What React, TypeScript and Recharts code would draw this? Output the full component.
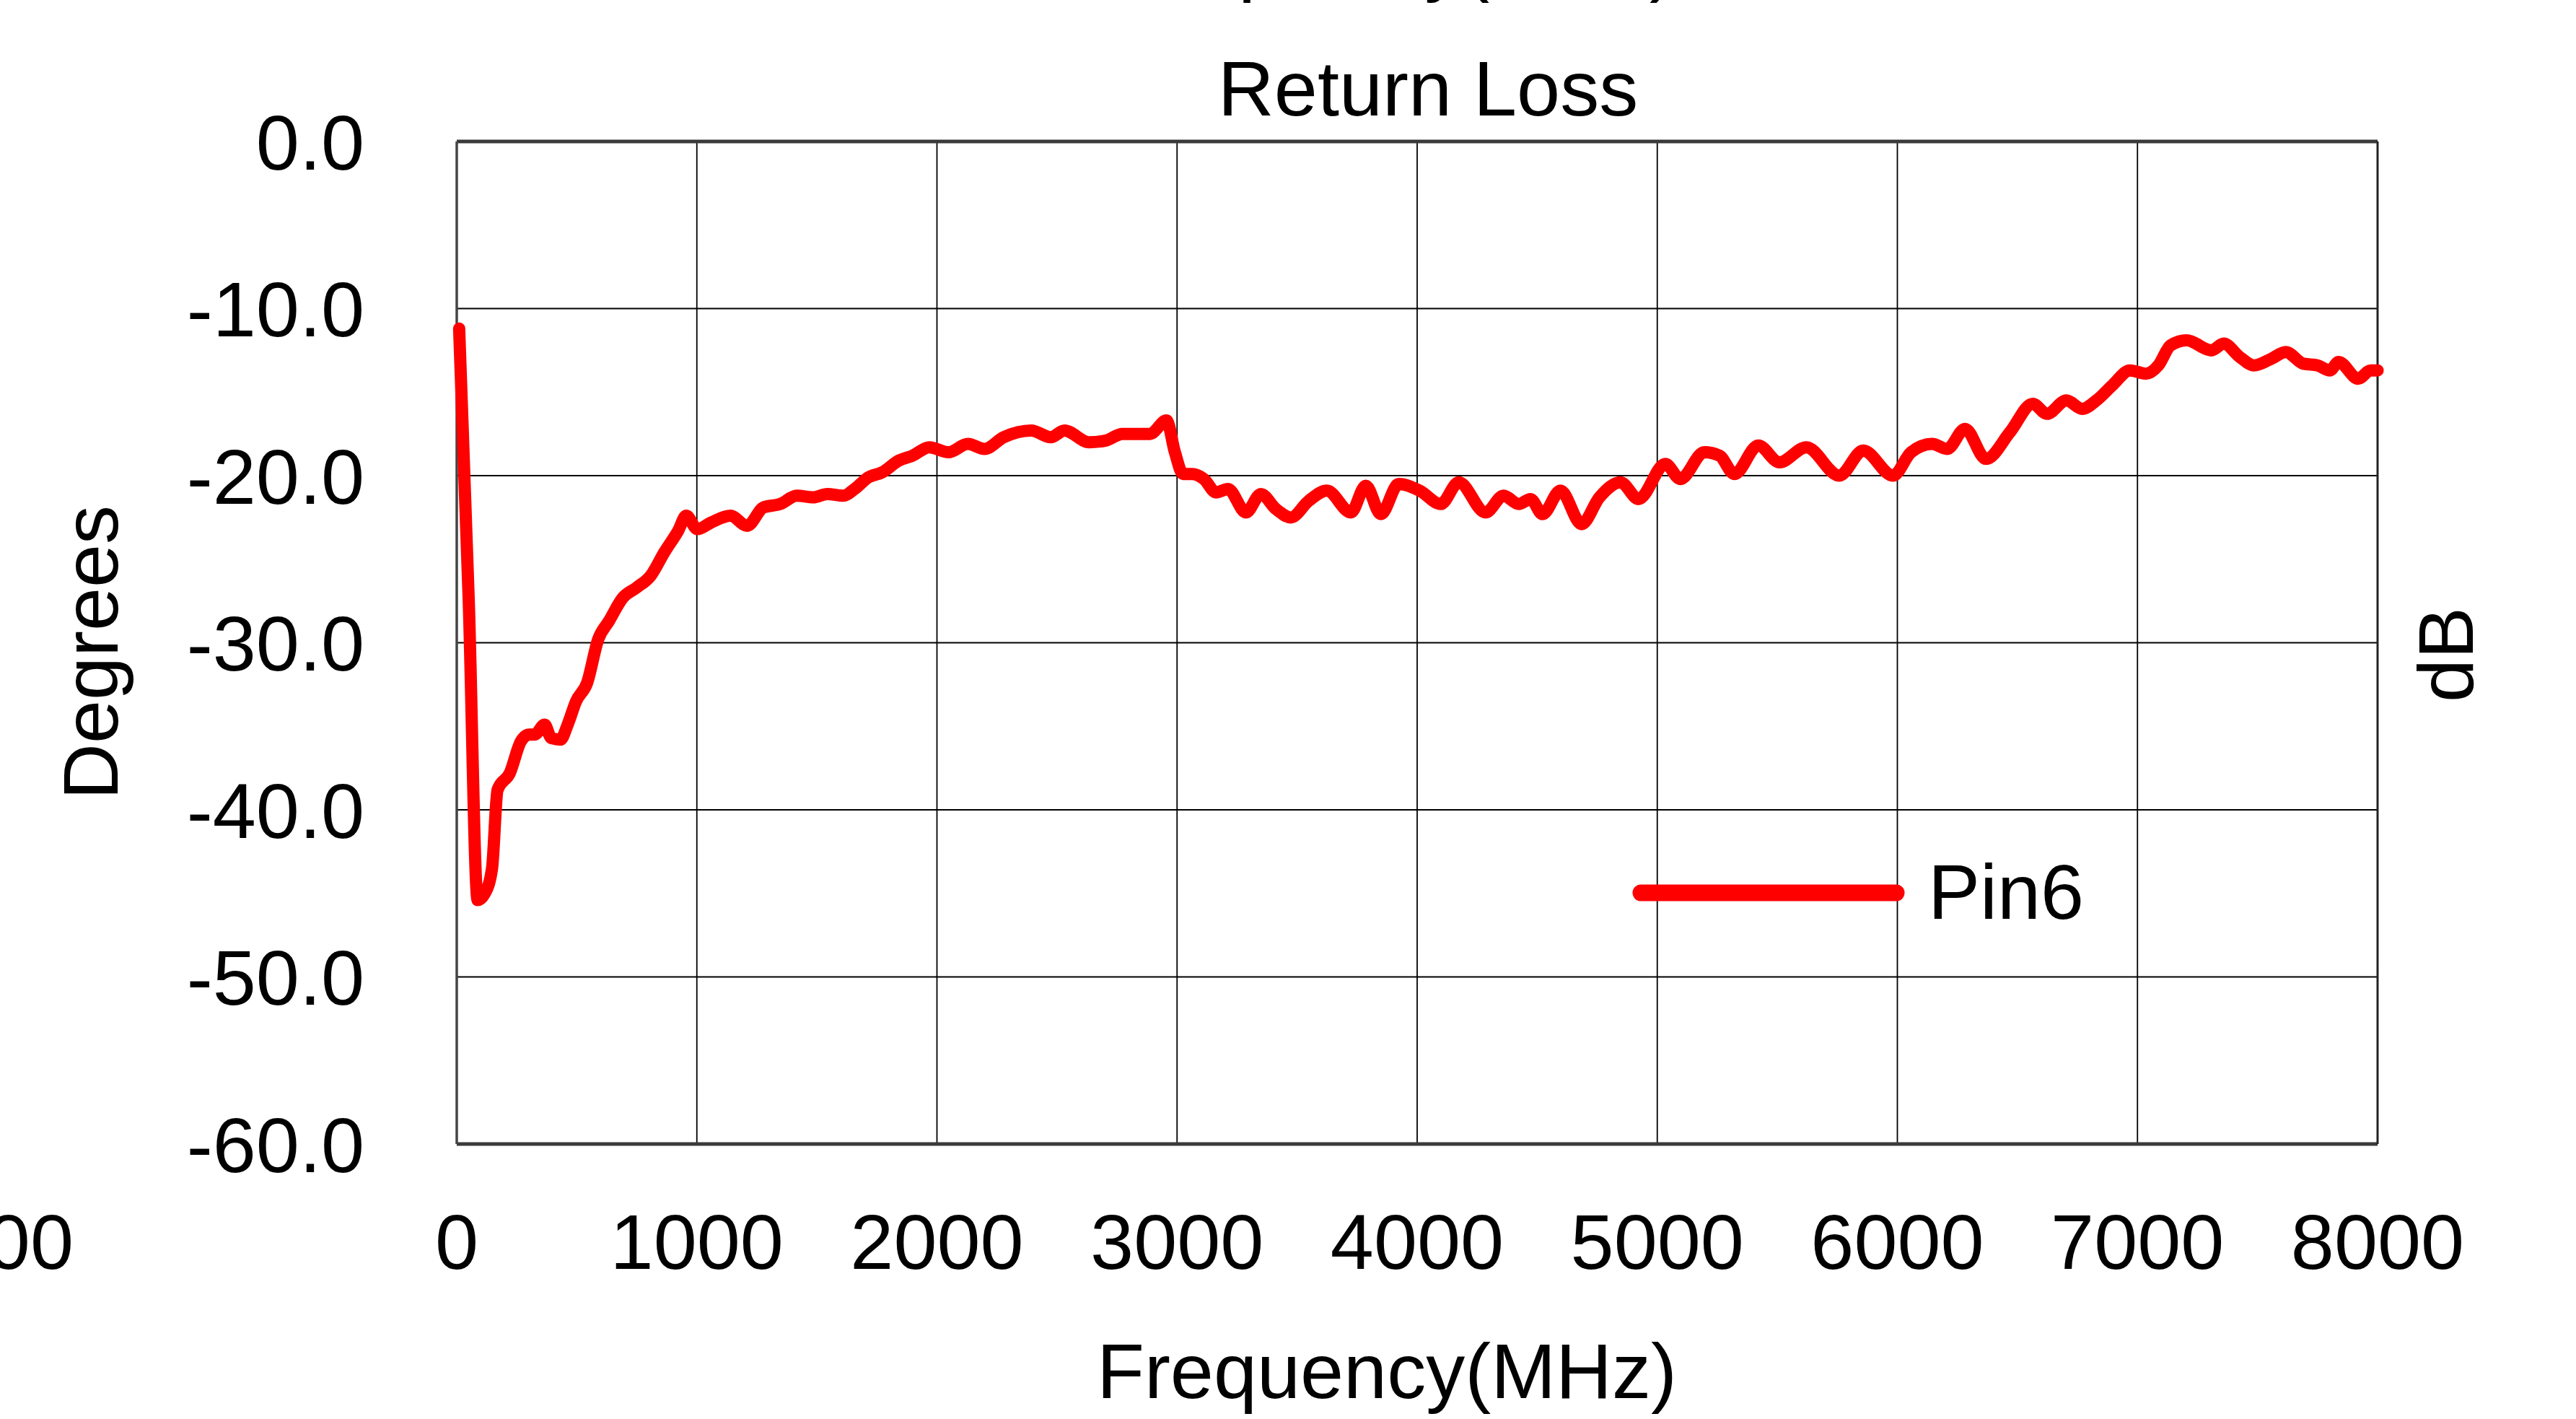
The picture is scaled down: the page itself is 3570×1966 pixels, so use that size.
import React from "react";
import {
  LineChart,
  Line,
  XAxis,
  YAxis,
  CartesianGrid,
  ReferenceLine,
  Legend,
} from "recharts";

const FONT = "'Liberation Sans', Arial, sans-serif";
const FS = 108;

// Return loss of Pin6 (MHz, dB)
const freqMHz = [
  10, 50, 87, 117, 147, 170, 221, 267, 301, 324, 366, 393, 432, 462, 497, 543,
  589, 634, 692, 749, 807, 864, 922, 956, 1002, 1060, 1140, 1209, 1278, 1347,
  1416, 1485, 1543, 1611, 1657, 1715, 1772, 1841, 1899, 1968, 2048, 2129, 2198,
  2278, 2393, 2474, 2531, 2634, 2703, 2772, 2841, 2887, 2956, 2991, 3025, 3062,
  3112, 3162, 3212, 3287, 3349, 3412, 3474, 3549, 3624, 3724, 3786, 3849, 3923,
  4011, 4098, 4173, 4285, 4360, 4423, 4472, 4522, 4597, 4685, 4759, 4847, 4922,
  5034, 5096, 5196, 5259, 5321, 5421, 5509, 5621, 5758, 5858, 5982, 6057, 6145,
  6207, 6282, 6369, 6469, 6564, 6623, 6704, 6770, 6829, 6895, 6969, 7035, 7087,
  7138, 7205, 7308, 7359, 7426, 7485, 7558, 7617, 7691, 7750, 7801, 7838, 7919,
  7971, 8000,
];
const pin6 = [
  -11.2, -27.5, -45.4, -45.0, -43.5, -38.8, -37.8, -35.9, -35.5, -35.5, -34.9,
  -35.7, -35.8, -34.9, -33.5, -32.4, -29.8, -28.7, -27.3, -26.7, -26.0, -24.6,
  -23.3, -22.4, -23.2, -22.8, -22.4, -23.0, -21.9, -21.7, -21.2, -21.3, -21.1,
  -21.2, -20.8, -20.1, -19.8, -19.1, -18.8, -18.3, -18.6, -18.1, -18.4, -17.7,
  -17.3, -17.7, -17.3, -18.0, -17.9, -17.5, -17.5, -17.5, -16.7, -18.6, -19.9,
  -19.9, -20.2, -21.0, -20.8, -22.2, -21.1, -22.0, -22.5, -21.5, -20.9, -22.2,
  -20.6, -22.3, -20.5, -20.9, -21.7, -20.4, -22.2, -21.2, -21.7, -21.4, -22.3,
  -20.9, -22.9, -21.3, -20.4, -21.4, -19.3, -20.2, -18.6, -18.8, -19.9, -18.2,
  -19.2, -18.3, -20.0, -18.5, -20.0, -18.6, -18.1, -18.4, -17.2, -19.0, -17.4,
  -15.7, -16.3, -15.5, -16.0, -15.5, -14.6, -13.7, -13.9, -13.4, -12.2, -11.9,
  -12.5, -12.1, -12.9, -13.4, -13.0, -12.6, -13.3, -13.4, -13.7, -13.2, -14.2,
  -13.7, -13.7,
];

const xTicks = [0, 1000, 2000, 3000, 4000, 5000, 6000, 7000, 8000];
const yTicks = [-60, -50, -40, -30, -20, -10, 0];

const data = freqMHz.map((f, i) => ({ f, v: pin6[i] }));

const XTick = ({ x, y, payload }: any) => (
  <text
    x={x}
    y={y + 173}
    textAnchor="middle"
    fontFamily={FONT}
    fontSize={FS}
    fill="#000"
  >
    {payload.value}
  </text>
);

const YTick = ({ x, y, payload }: any) => (
  <text
    x={x}
    y={y}
    dy="0.36em"
    textAnchor="end"
    fontFamily={FONT}
    fontSize={FS}
    fill="#000"
  >
    {Number(payload.value).toFixed(1)}
  </text>
);

const PinLegend = () => (
  <svg width={700} height={130} style={{ display: "block" }}>
    <line
      x1={34}
      y1={67}
      x2={388}
      y2={67}
      stroke="#ff0000"
      strokeWidth={23}
      strokeLinecap="round"
    />
    <text x={432} y={103} fontFamily={FONT} fontSize={FS} fill="#000">
      Pin6
    </text>
  </svg>
);

export default function App() {
  return (
    <div
      style={{
        position: "absolute",
        left: 0,
        top: 0,
        width: 3570,
        height: 1966,
        background: "#fff",
        overflow: "hidden",
      }}
    >
      <LineChart
        width={3570}
        height={1966}
        data={data}
        margin={{ top: 196, right: 275, bottom: 0, left: 0 }}
      >
        <CartesianGrid stroke="#000" strokeWidth={1.8} />
        <XAxis
          dataKey="f"
          type="number"
          domain={[0, 8000]}
          ticks={xTicks}
          interval={0}
          height={381}
          tickSize={0}
          tickMargin={0}
          tickLine={false}
          axisLine={false}
          tick={<XTick />}
        />
        <YAxis
          type="number"
          domain={[-60, 0]}
          ticks={yTicks}
          interval={0}
          width={633}
          tickSize={0}
          tickMargin={128}
          tickLine={false}
          axisLine={false}
          tick={<YTick />}
        />
        <ReferenceLine y={0} stroke="#3a3a3a" strokeWidth={5} />
        <ReferenceLine y={-60} stroke="#3a3a3a" strokeWidth={5} />
        <ReferenceLine x={0} stroke="#444" strokeWidth={3.5} />
        <ReferenceLine x={8000} stroke="#222" strokeWidth={3} />
        <Legend
          layout="horizontal"
          verticalAlign="middle"
          align="center"
          content={<PinLegend />}
          wrapperStyle={{
            position: "absolute",
            left: 2240,
            top: 1170,
            width: 700,
            height: 130,
            margin: 0,
            padding: 0,
          }}
        />
        <Line
          type="monotone"
          dataKey="v"
          name="Pin6"
          stroke="#ff0000"
          strokeWidth={17}
          strokeLinejoin="round"
          strokeLinecap="round"
          dot={false}
          isAnimationActive={false}
        />
      </LineChart>

      {/* titles and the cut-off labels of the neighbouring chart */}
      <svg
        width={3570}
        height={1966}
        style={{ position: "absolute", left: 0, top: 0, pointerEvents: "none" }}
        fontFamily={FONT}
        fontSize={FS}
        fill="#000"
      >
        <text x={1920} y={-18} textAnchor="middle">
          Frequency(MHz)
        </text>
        <text x={1979} y={160} textAnchor="middle">
          Return Loss
        </text>
        <text transform="translate(163,904) rotate(-90)" textAnchor="middle">
          Degrees
        </text>
        <text transform="translate(3427,907) rotate(-90)" textAnchor="middle">
          dB
        </text>
        <text x={102} y={1758} textAnchor="end">
          8000
        </text>
        <text x={1922} y={1937} textAnchor="middle">
          Frequency(MHz)
        </text>
      </svg>
    </div>
  );
}
